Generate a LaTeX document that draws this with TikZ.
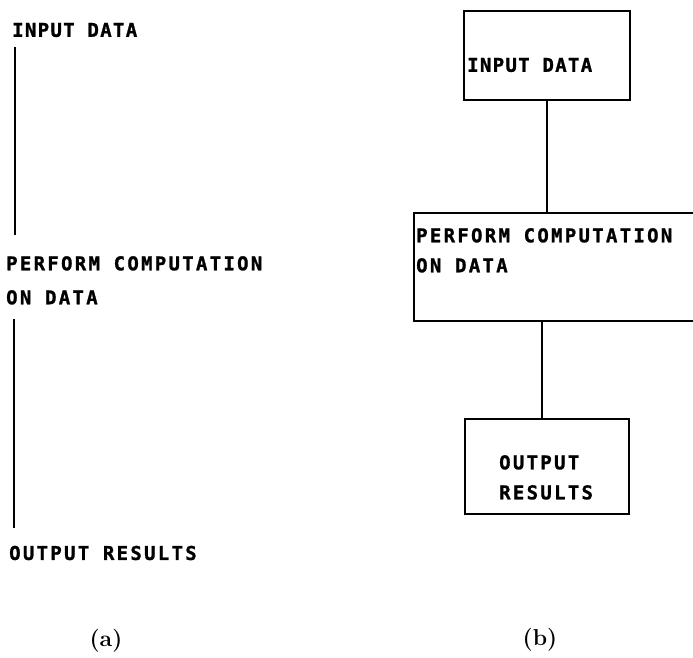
\documentclass[tikz,border=0pt]{standalone}
\usepackage{fontspec}
\usetikzlibrary{calc}
\newfontfamily\dmono[LetterSpace=12,BoldFeatures={FakeBold=1.2}]{DejaVu Sans Mono}
\newfontfamily\dmonon[LetterSpace=7,BoldFeatures={FakeBold=1.2}]{DejaVu Sans Mono}
\begin{document}
\begin{tikzpicture}[x=1pt,y=-1pt,
  txt/.style={font=\dmono\bfseries\fontsize{19}{34}\selectfont, inner sep=0pt, align=left},
  txtb/.style={font=\dmono\bfseries\fontsize{19}{30}\selectfont, inner sep=0pt, align=left},
  narrow/.style={font=\dmonon\bfseries\fontsize{19}{30}\selectfont},
  box/.style={draw, line width=2.4pt, inner sep=0pt},
  conn/.style={line width=1.7pt},
  lconn/.style={line width=2.4pt},
  sublabel/.style={font=\fontsize{23}{26}\selectfont\bfseries, inner sep=0pt}]
\useasboundingbox (0,0) rectangle (693,658);
\clip (0,0) rectangle (693,658);
% (a)
\node[txt, narrow, anchor=west] (ina) at (12,30) {INPUT DATA};
\node[txt, anchor=north west] (pa) at (6,256) {PERFORM COMPUTATION\\ON DATA};
\node[txt, anchor=west] (ora) at (9,553) {OUTPUT RESULTS};
\draw[lconn] ($(ina.south west)+(3,10)$) -- ($(ina.south west |- pa.north)+(3,-21)$);
\draw[lconn] ($(pa.south west)+(8,14)$) -- ($(pa.south west |- ora.north)+(8,-18)$);
\node[sublabel] (la) at (106,641) {(a)};
% (b)
\node[box, minimum width=166, minimum height=89, anchor=north west] (inb) at (463,10) {};
\node[txtb, narrow, anchor=west] (inbt) at (467,65) {INPUT DATA};
\node[box, minimum width=300, minimum height=108, anchor=north west] (pb) at (413,212) {};
\node[txtb, anchor=north west] (pbt) at (416,228) {PERFORM COMPUTATION\\ON DATA};
\node[box, minimum width=164, minimum height=95, anchor=north west] (ob) at (464,418) {};
\node[txtb, anchor=north west] (obt) at (499,455) {OUTPUT\\RESULTS};
\draw[conn] (inb.south) -- (inb.south |- pb.north);
\draw[conn] ($(ob.north)+(-5,0)$) -- ($(ob.north |- pb.south)+(-5,0)$);
\node[sublabel] (lb) at (540,640) {(b)};
\end{tikzpicture}
\end{document}
